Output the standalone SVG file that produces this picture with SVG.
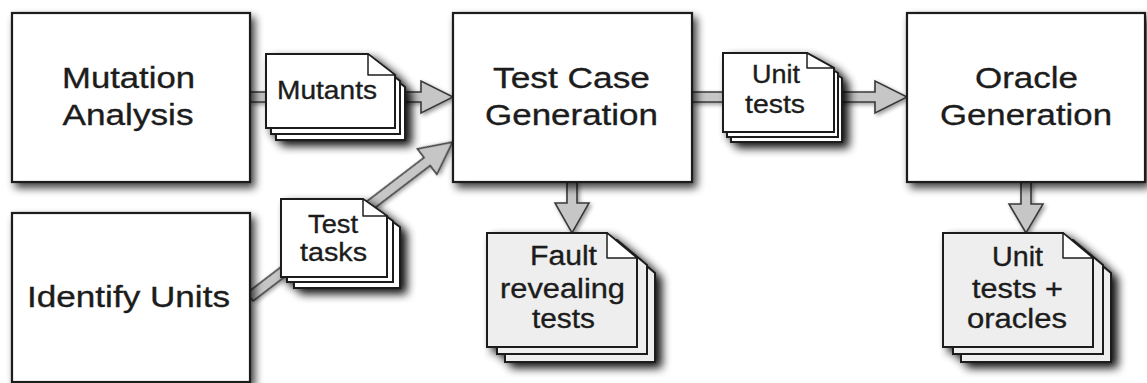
<svg xmlns="http://www.w3.org/2000/svg" width="1147" height="383" viewBox="0 0 1147 383">
<defs>
<filter id="sh" x="-20%" y="-20%" width="150%" height="150%">
<feGaussianBlur in="SourceAlpha" stdDeviation="4"/>
<feOffset dx="4" dy="5"/>
<feComponentTransfer><feFuncA type="linear" slope="0.75"/></feComponentTransfer>
<feMerge><feMergeNode/><feMergeNode in="SourceGraphic"/></feMerge>
</filter>
<filter id="shd" x="-30%" y="-30%" width="170%" height="170%">
<feGaussianBlur in="SourceAlpha" stdDeviation="5"/>
<feOffset dx="6" dy="5"/>
<feComponentTransfer><feFuncA type="linear" slope="0.95"/></feComponentTransfer>
<feMerge><feMergeNode/><feMergeNode in="SourceGraphic"/></feMerge>
</filter>
<filter id="sh2" x="-20%" y="-20%" width="150%" height="150%">
<feGaussianBlur in="SourceAlpha" stdDeviation="2"/>
<feOffset dx="2" dy="2"/>
<feComponentTransfer><feFuncA type="linear" slope="0.4"/></feComponentTransfer>
<feMerge><feMergeNode/><feMergeNode in="SourceGraphic"/></feMerge>
</filter>
<style>
.box{fill:#fff;stroke:#1e1e1e;stroke-width:2.2}
.pg{fill:#fff;stroke:#1e1e1e;stroke-width:2}
.pgg{fill:#eeeeee;stroke:#1e1e1e;stroke-width:2}
.fold{fill:#fff;stroke:#1e1e1e;stroke-width:1.5;stroke-linejoin:round}
.arr{fill:#c6c6c6;stroke:#3a3a3a;stroke-width:1.6;stroke-linejoin:miter}
text{font-family:"Liberation Sans",Arial,Helvetica,sans-serif;fill:#1c1c1c;stroke:#1c1c1c;stroke-width:0.35;text-anchor:middle}
.big{font-size:30px}
.s25{font-size:25px}
.s26{font-size:26px}
.s27{font-size:27px}
</style>
</defs>
<rect width="1147" height="383" fill="#fff"/>

<g id="connectors">
<polygon class="arr" filter="url(#sh2)" points="250,92 421,92 421,81 453,97 421,113 421,102 250,102"/>
<polygon class="arr" filter="url(#sh2)" points="692,92 875,92 875,81 907,97 875,113 875,102 692,102"/>
<g transform="translate(250,297) rotate(-37.4)">
<polygon class="arr" filter="url(#sh2)" points="0,-5 223,-5 223,-16 255,0 223,16 223,5 0,5"/>
</g>
<polygon class="arr" filter="url(#sh2)" points="567,182 567,203 555,203 572,233 589,203 577,203 577,182"/>
<polygon class="arr" filter="url(#sh2)" points="1021,182 1021,204 1009,204 1026,233 1043,204 1031,204 1031,182"/>
</g>

<g id="mutation-analysis">
<rect class="box" filter="url(#sh)" x="12" y="13" width="238" height="169"/>
<text class="big" x="128.5" y="88" textLength="133" lengthAdjust="spacingAndGlyphs">Mutation</text>
<text class="big" x="128" y="125" textLength="131" lengthAdjust="spacingAndGlyphs">Analysis</text>
</g>

<g id="identify-units">
<rect class="box" filter="url(#sh)" x="12" y="213" width="238" height="169"/>
<text class="big" x="128.5" y="307" textLength="203" lengthAdjust="spacingAndGlyphs">Identify Units</text>
</g>

<g id="test-case-generation">
<rect class="box" filter="url(#sh)" x="453" y="13" width="239" height="169"/>
<text class="big" x="571.5" y="88" textLength="157" lengthAdjust="spacingAndGlyphs">Test Case</text>
<text class="big" x="571.5" y="125" textLength="173" lengthAdjust="spacingAndGlyphs">Generation</text>
</g>

<g id="oracle-generation">
<rect class="box" filter="url(#sh)" x="907" y="13" width="238" height="169"/>
<text class="big" x="1026.5" y="88" textLength="103" lengthAdjust="spacingAndGlyphs">Oracle</text>
<text class="big" x="1026" y="125" textLength="172" lengthAdjust="spacingAndGlyphs">Generation</text>
</g>

<g id="mutants">
<g filter="url(#shd)">
<path class="pg" d="M276,66 H378 L405,87 V140 H276 Z"/>
<path class="pg" d="M271,60 H373 L400,81 V134 H271 Z"/>
<path class="pg" d="M266,54 H368 L395,75 V128 H266 Z"/>
</g>
<path class="fold" d="M368,54 V75 H395 Z"/>
<text class="s25" x="327" y="99" textLength="100" lengthAdjust="spacingAndGlyphs">Mutants</text>
</g>

<g id="test-tasks">
<g filter="url(#shd)">
<path class="pg" d="M294,210 H376 L400,227 V288 H294 Z"/>
<path class="pg" d="M287,204 H369 L393,221 V282 H287 Z"/>
<path class="pg" d="M281,199 H363 L387,216 V277 H281 Z"/>
</g>
<path class="fold" d="M363,199 V216 H387 Z"/>
<text class="s25" x="333" y="233" textLength="50" lengthAdjust="spacingAndGlyphs">Test</text>
<text class="s25" x="333.5" y="261" textLength="67" lengthAdjust="spacingAndGlyphs">tasks</text>
</g>

<g id="unit-tests">
<g filter="url(#shd)">
<path class="pg" d="M731,63 H815 L842,78 V142 H731 Z"/>
<path class="pg" d="M727,58 H811 L838,73 V137 H727 Z"/>
<path class="pg" d="M723,53 H807 L834,68 V132 H723 Z"/>
</g>
<path class="fold" d="M807,53 V68 H834 Z"/>
<text class="s26" x="776" y="83" textLength="48" lengthAdjust="spacingAndGlyphs">Unit</text>
<text class="s26" x="775" y="113" textLength="60" lengthAdjust="spacingAndGlyphs">tests</text>
</g>

<g id="fault-revealing-tests">
<g filter="url(#shd)">
<path class="pgg" d="M505,248 H625 L655,273 V362 H505 Z"/>
<path class="pgg" d="M497,240 H617 L647,265 V354 H497 Z"/>
<path class="pgg" d="M487,233 H607 L637,258 V347 H487 Z"/>
</g>
<path class="fold" d="M607,233 V258 H637 Z"/>
<text class="s27" x="563.5" y="265" textLength="67" lengthAdjust="spacingAndGlyphs">Fault</text>
<text class="s27" x="562.5" y="298" textLength="125" lengthAdjust="spacingAndGlyphs">revealing</text>
<text class="s27" x="563.5" y="328" textLength="63" lengthAdjust="spacingAndGlyphs">tests</text>
</g>

<g id="unit-tests-oracles">
<g filter="url(#shd)">
<path class="pgg" d="M961,248 H1081 L1111,273 V362 H961 Z"/>
<path class="pgg" d="M953,240 H1073 L1103,265 V354 H953 Z"/>
<path class="pgg" d="M943,233 H1063 L1093,258 V347 H943 Z"/>
</g>
<path class="fold" d="M1063,233 V258 H1093 Z"/>
<text class="s27" x="1017.5" y="266" textLength="51" lengthAdjust="spacingAndGlyphs">Unit</text>
<text class="s27" x="1017.5" y="298" textLength="91" lengthAdjust="spacingAndGlyphs">tests +</text>
<text class="s27" x="1017" y="328" textLength="100" lengthAdjust="spacingAndGlyphs">oracles</text>
</g>
</svg>
